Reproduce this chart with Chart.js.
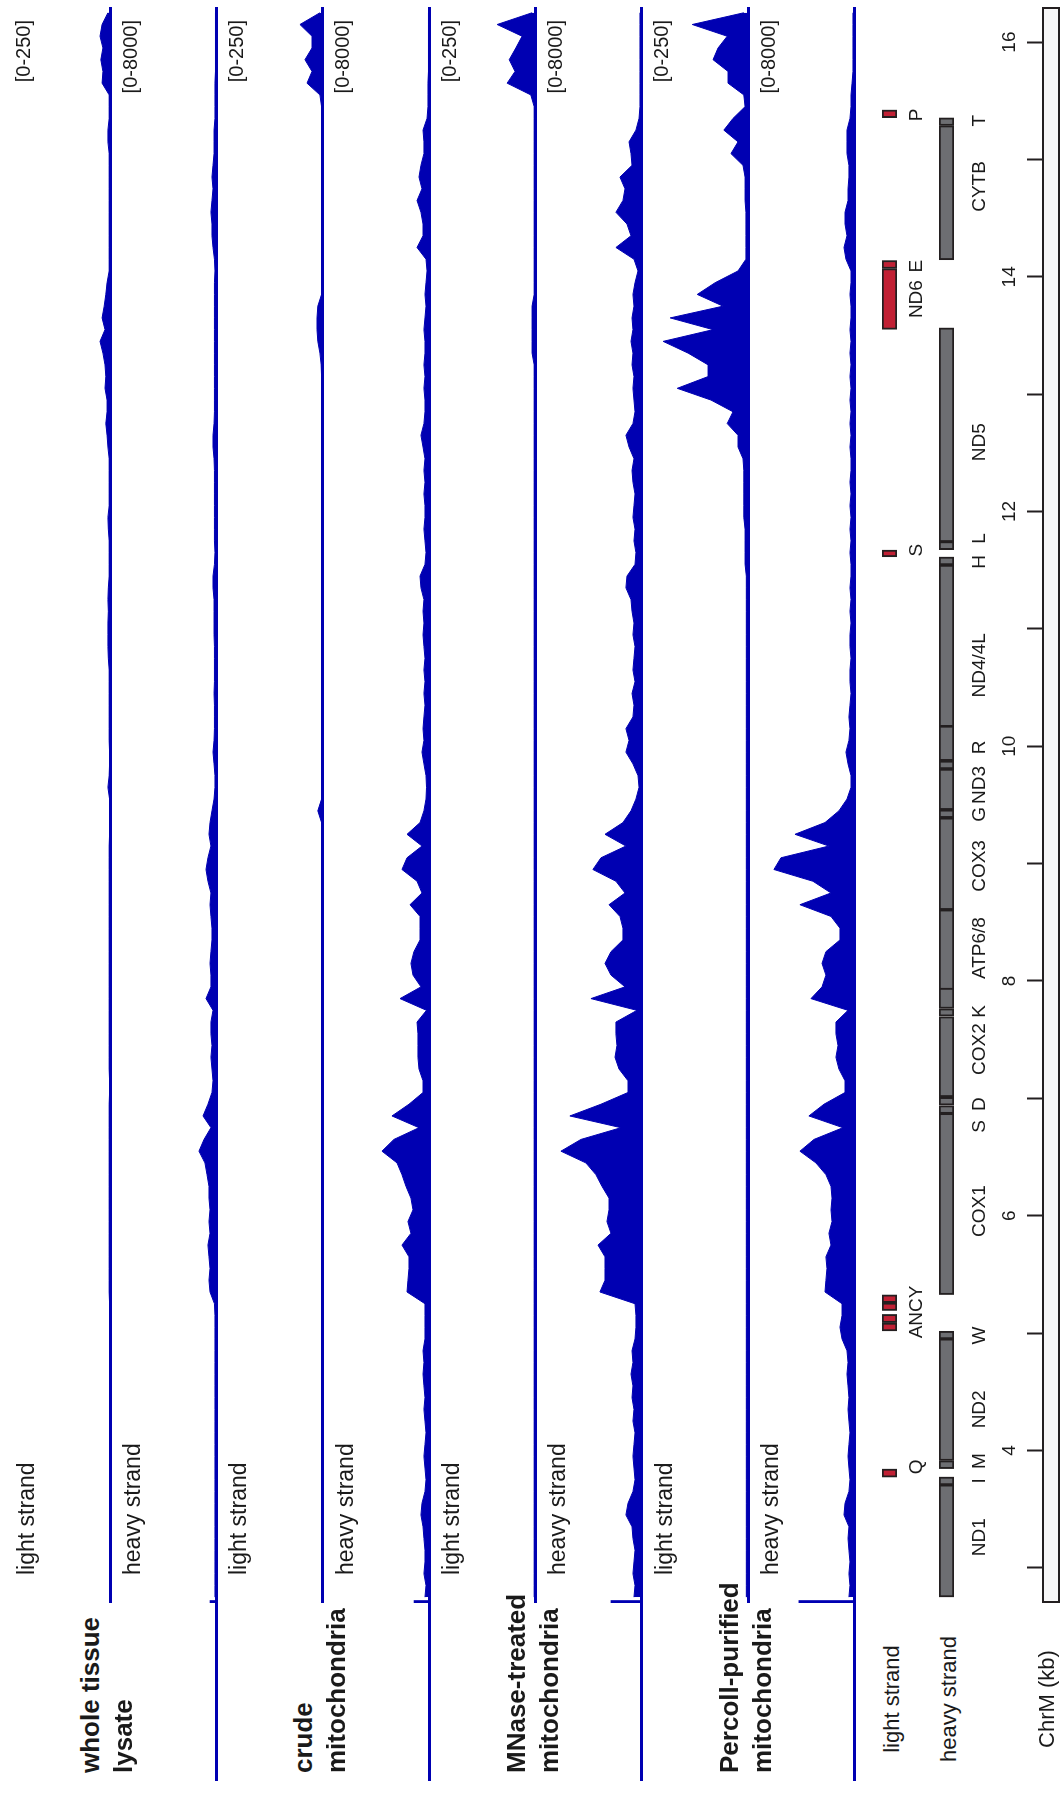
<!DOCTYPE html>
<html>
<head>
<meta charset="utf-8">
<script src="https://cdn.jsdelivr.net/npm/chart.js@4.4.1/dist/chart.umd.min.js"></script>
<style>
  html, body { margin: 0; padding: 0; background: #fff; }
  body { width: 1063px; height: 1796px; overflow: hidden; position: relative; font-family: "Liberation Sans", Arial, sans-serif; }
  /* the figure is drawn lying down and turned a quarter turn, like the original */
  #figure { position: absolute; left: 0; top: 0; width: 1796px; height: 1063px; transform-origin: 0 0; transform: translateY(1796px) rotate(-90deg); }
  .txt { position: absolute; white-space: nowrap; color: #1a1a1a; }
  .line { position: absolute; background: rgb(0, 0, 178); }
</style>
</head>
<body>
<div id="figure"></div>
<script>
// ChrM coverage, 100 bp bins (bin centres), 2.7 - 16.3 kb
const binStart = 2750, binStep = 100;
const positions = Array.from({ length: 136 }, (_, i) => binStart + i * binStep);

const wtlLight = [
  1,1,1,1,1,1,1,1,1,1, 1,1,1,1,1,1,1,1,1,1, 1,1,1,1,1,1,2,2,2,2,
  2,2,2,2,2,2,2,2,2,2, 2,2,2,1,1,2,2,2,2,2, 2,2,2,2,2,2,2,2,2,2,
  2,2,2,2,2,1,1,1,1,5, 2,1,1,
  2,2,2,2,2,2,2,4,5,5, 5,4,5,4,2,2,2,2,4,5, 2,2,2,2,2,5,7,10,7,7,
  12,10,12,17,24,12,19,14,10,7, 2,2,2,2,2,2,2,2,2,2,
  2,5,5,2,2,2,19,17,22,17,24,19,5
];
const wtlHeavy = [
  80,80,80,80,80,80,80,80,80,80, 80,80,80,80,80,80,80,80,80,80, 80,80,80,80,80,120,
  460,540,460,540,
  620,460,540,460,540,540,690,850,1310,920,
  390,1000,620,310,230,310,390,310,390,390,
  230,770,390,390,460,390,310,310,390,460,
  390,620,770,620,390,540,460,310,150,80,
  80,150,230,150,120,120,120,150,120,120,
  120,120,150,150,150,150,230,230,120,80,
  120,120,120,120,120,120,120,150,230,230,
  150,120,120,120,120,120,120,120,120,120,
  120,120,120,80,120,230,310,310,390,310,
  230,310,230,150,150,150,80,80,80,80,
  40,40,40,40,40,40
];
const crudeLight = [
  1,1,1,1,1,1,1,1,1,1, 1,1,1,1,1,1,1,1,1,1, 1,1,1,1,1,1,1,1,1,1,
  1,1,1,1,1,1,1,1,1,1, 1,1,1,1,1,1,1,1,1,1, 1,1,1,1,1,1,1,1,1,1,
  1,1,1,1,1,1,1,10,
  1,1,1,1,1,1,1,1,1,1, 1,1,1,1,1,1,1,1,1,1, 1,1,1,1,1,1,1,1,1,1, 1,1,
  1,1,1,1,1,2, 5,10,12,12,10,
  1,1,1,1,1,1,1,1,1,1, 1,1,1,1,1,1,1,
  5,36,24,41,24,24,53,5
];
const crudeHeavy = [
  310,230,390,310,310,390,460,620,540,310,
  230,310,390,310,230,310,390,310,390,460,
  390,460,310,310,310,310,1690,1620,1540,1540,
  2080,1390,1620,1230,1390,1770,2080,2460,3620,2700,
  770,2850,1540,460,460,770,850,850,850,920,
  190,2230,620,1230,1390,1160,690,690,690,1460,
  540,920,2080,1690,540,1690,690,390,230,190,
  230,390,540,390,460,390,310,390,310,390,
  310,390,460,390,460,390,620,690,310,230,
  310,390,310,310,390,310,390,310,460,620,
  390,310,310,390,310,390,310,310,390,310,
  230,310,230,150,230,920,460,460,620,920,
  540,770,620,390,390,460,150,80,80,80,
  40,40,40,40,40,40
];
const mnaseLight = [
  2,2,2,2,2,2,2,2,2,2, 2,2,2,2,2,2,2,2,2,2, 2,2,2,2,2,2,2,2,2,2,
  2,2,2,2,2,2,2,2,2,2, 2,2,2,2,2,2,2,2,2,2, 2,2,2,2,2,2,2,2,2,2,
  2,2,2,2,2,2,2,2,2,2, 2,2,2,2,2,2,2,2,2,2, 2,2,2,2,2,2,2,2,2,2,
  2,2,2,2,2,2,2,2,2,2, 2,2,2,2,2,2,
  7,7,7,7,7,
  2,2,2,2,2,2,2,2,2,2, 2,2,2,2,2,2,2,
  10,67,48,62,46,31,91,7
];
const mnaseHeavy = [
  540,460,620,540,460,620,690,1160,1000,620,
  460,540,620,540,460,620,540,690,620,770,
  620,690,460,390,390,460,3160,2770,2770,2770,
  3310,2310,2620,2460,2460,3000,3470,4240,6160,4620,
  1540,5470,3080,1000,1000,1690,2000,1850,1930,1930,
  310,3850,1230,2310,2770,2310,1390,1390,1620,2460,
  1230,1930,3700,3080,1160,2770,1390,770,390,150,
  230,620,1160,920,1160,620,540,690,460,620,
  540,460,620,540,690,770,1160,1080,460,390,
  540,460,620,540,460,620,690,540,920,1160,
  620,460,540,620,540,690,620,770,620,690,
  540,620,460,230,540,1930,770,1080,1930,1390,
  1230,1620,690,770,920,390,150,80,80,80,
  80,80,80,80,80,80
];
const percollLight = [
  4,4,4,4,4,4,4,4,4,4, 4,4,4,4,4,4,4,4,4,4, 4,4,4,4,4,4,4,4,4,4,
  4,4,4,4,4,4,4,4,4,4, 4,4,4,4,4,4,4,4,4,4, 4,4,4,4,4,4,4,4,4,4,
  4,4,4,4,4,4,4,4,4,4, 4,4,4,4,4,4,4,4,4,4, 4,4,4,4,4,4,4,4,
  7,7,7,7,10,10,10,10,10,12,
  24,24,50,36,89,170,96,96,144,204,
  84,187,60,122,79,24,5,5,5,5,
  5,7,7,7,12,41,24,58,36,7,
  10,48,48,84,72,50,134,10
];
const percollHeavy = [
  390,310,390,310,390,460,390,770,690,390,
  310,390,460,390,310,390,460,390,460,540,
  460,540,920,1080,920,920,2230,2160,2080,2160,
  1770,1930,1690,1770,1690,1770,2160,2930,4160,3080,
  850,3470,2310,690,690,1160,1390,1230,1390,1390,
  460,3310,2460,2160,2460,2160,1080,1080,1770,4160,
  1770,3160,6160,5620,1930,4540,2230,1160,540,230,
  230,460,620,390,310,390,310,230,310,310,
  230,310,310,230,310,230,310,230,230,310,
  230,310,230,310,230,310,230,230,310,230,
  310,230,310,230,310,230,310,230,310,230,
  230,310,230,230,620,770,540,690,690,460,
  460,390,390,540,540,540,310,230,230,150,
  80,80,80,80,80,80
];

// one thin spike at the left edge of each track (first read position)
const spikePos = 2700;
const spikeValues = [0, 460, 0, 1150, 0, 2310, 0, 4240];

const trackValues = [wtlLight, wtlHeavy, crudeLight, crudeHeavy, mnaseLight, mnaseHeavy, percollLight, percollHeavy];
const trackNames = ["light strand", "heavy strand", "light strand", "heavy strand", "light strand", "heavy strand", "light strand", "heavy strand"];
const trackMax = [250, 8000, 250, 8000, 250, 8000, 250, 8000];
const trackRange = ["[0-250]", "[0-8000]", "[0-250]", "[0-8000]", "[0-250]", "[0-8000]", "[0-250]", "[0-8000]"];
const groupLines = [["whole tissue", "lysate"], ["crude", "mitochondria"], ["MNase-treated", "mitochondria"], ["Percoll-purified", "mitochondria"]];

// gene annotation (bp)
const lightGeneStart = [3772, 5018, 5089, 5192, 5259, 11614, 13552, 14071, 15356];
const lightGeneEnd   = [3842, 5086, 5159, 5257, 5326, 11672, 14070, 14139, 15422];
const heavyGeneStart = [2751, 3706, 3845, 3914, 4950, 5328, 6870, 6942, 7013, 7700, 7766, 7927, 8607, 9391, 9459, 9807, 9877, 10167, 11545, 11675, 11742, 14145, 15289];
const heavyGeneEnd   = [3707, 3774, 3913, 4951, 5016, 6872, 6938, 7009, 7696, 7764, 7969, 8607, 9390, 9458, 9806, 9875, 10173, 11544, 11613, 11744, 13565, 15288, 15355];
const lightLabels = ["Q", "ANCY", "S", "ND6", "E", "P"];
const lightLabelPos = [3860, 5180, 11670, 13810, 14090, 15380];
const heavyLabels = ["ND1", "I", "M", "ND2", "W", "COX1", "S", "D", "COX2", "K", "ATP6/8", "COX3", "G", "ND3", "R", "ND4/4L", "H", "L", "ND5", "CYTB", "T"];
const heavyLabelPos = [3260, 3740, 3910, 4350, 4980, 6040, 6760, 6950, 7420, 7740, 8280, 8980, 9420, 9670, 9990, 10690, 11570, 11770, 12590, 14770, 15330];

// axis ticks (bp) and their labels (kb)
const axisTicks = [3000, 4000, 5000, 6000, 7000, 8000, 9000, 10000, 11000, 12000, 13000, 14000, 15000, 16000];
const axisTickLabels = ["", "4", "", "6", "", "8", "", "10", "", "12", "", "14", "", "16"];

const BLUE = "rgb(0, 0, 178)";
const FONT = '"Liberation Sans", Arial, sans-serif';
const X_MIN = 2700, X_MAX = 16299;
const PLOT_LEFT = 193, PLOT_W = 1596;
const B0 = 109.5, TRACK_STEP = 106.35, TRACK_H = 104;

const fig = document.getElementById("figure");

function addText(text, x, baseline, size, opts = {}) {
  const d = document.createElement("div");
  d.className = "txt";
  d.textContent = text;
  d.style.fontSize = size + "px";
  d.style.lineHeight = size + "px";
  d.style.left = x + "px";
  d.style.top = (baseline - 0.8465 * size) + "px";
  if (opts.bold) d.style.fontWeight = "bold";
  if (opts.align === "right") d.style.transform = "translateX(-100%)";
  if (opts.align === "center") d.style.transform = "translateX(-50%)";
  fig.appendChild(d);
}

function addLine(left, top, w, h) {
  const d = document.createElement("div");
  d.className = "line";
  Object.assign(d.style, { left: left + "px", top: top + "px", width: w + "px", height: h + "px" });
  fig.appendChild(d);
}

function makeCanvas(left, top, w, h) {
  const c = document.createElement("canvas");
  c.width = w;
  c.height = h;
  Object.assign(c.style, { position: "absolute", left: left + "px", top: top + "px", width: w + "px", height: h + "px" });
  fig.appendChild(c);
  return c;
}

const baseOptions = {
  responsive: false,
  animation: false,
  events: [],
  plugins: { legend: { display: false }, tooltip: { enabled: false } }
};

// coverage tracks
trackValues.forEach((vals, i) => {
  const base = Math.round(B0 + TRACK_STEP * i);
  const top = B0 + TRACK_STEP * (i - 1);
  const canvas = makeCanvas(PLOT_LEFT, base - TRACK_H, PLOT_W, TRACK_H);
  new Chart(canvas, {
    type: "line",
    data: {
      datasets: [
        {
          data: positions.map((p, j) => ({ x: p, y: vals[j] })),
          fill: "origin",
          backgroundColor: BLUE,
          borderColor: BLUE,
          borderWidth: 1,
          pointRadius: 0,
          tension: 0
        },
        {
          type: "bar",
          data: [{ x: spikePos, y: spikeValues[i] }],
          backgroundColor: BLUE,
          barThickness: 5
        }
      ]
    },
    options: {
      ...baseOptions,
      layout: { padding: 0 },
      scales: {
        x: { type: "linear", bounds: "data", min: X_MIN, max: X_MAX, offset: false, display: false },
        y: { min: 0, max: trackMax[i], display: false }
      }
    }
  });

  // baseline: heavy-strand lines run on under the sample names
  if (i % 2 === 0) addLine(PLOT_LEFT, base - 1, PLOT_W, 3);
  else addLine(15, base - 1, PLOT_LEFT + PLOT_W - 15, 3);

  addText(trackNames[i], 221, top + 31, 23);
  addText(trackRange[i], 1776, top + 27, 20, { align: "right" });
});

// sample names
groupLines.forEach((lines, g) => {
  const lightBase = B0 + TRACK_STEP * 2 * g;
  addText(lines[0], 23, lightBase - 10, 26, { bold: true });
  addText(lines[1], 23, lightBase + 23, 26, { bold: true });
});

// gene rows
function geneLabelPlugin(names, pos, offset) {
  return {
    id: "geneLabels",
    afterDatasetsDraw(chart) {
      const { ctx, chartArea, scales } = chart;
      ctx.save();
      ctx.font = "19px " + FONT;
      ctx.fillStyle = "#1a1a1a";
      ctx.textAlign = "center";
      ctx.textBaseline = "alphabetic";
      names.forEach((n, j) => ctx.fillText(n, scales.x.getPixelForValue(pos[j]), chartArea.bottom + offset));
      ctx.restore();
    }
  };
}

function makeGeneChart(top, h, starts, ends, fill, names, pos, offset) {
  const canvas = makeCanvas(PLOT_LEFT, top, PLOT_W, h);
  new Chart(canvas, {
    type: "bar",
    data: {
      labels: ["row"],
      datasets: [{
        data: starts.map((s, j) => ({ x: [s, ends[j]], y: "row" })),
        backgroundColor: fill,
        borderColor: "#231f20",
        borderWidth: 2,
        borderSkipped: false,
        barPercentage: 1,
        categoryPercentage: 1
      }]
    },
    options: {
      ...baseOptions,
      indexAxis: "y",
      layout: { padding: { top: 0, left: 0, right: 0, bottom: h - 15 } },
      scales: {
        x: { type: "linear", bounds: "data", min: X_MIN, max: X_MAX, display: false },
        y: { type: "category", display: false }
      }
    },
    plugins: [geneLabelPlugin(names, pos, offset)]
  });
}

makeGeneChart(882, 44, lightGeneStart, lightGeneEnd, "rgb(193, 32, 52)", lightLabels, lightLabelPos, 24.5);
makeGeneChart(939, 52, heavyGeneStart, heavyGeneEnd, "rgb(109, 110, 114)", heavyLabels, heavyLabelPos, 30.5);

// ChrM axis
const axisBox = {
  id: "axisBox",
  beforeDraw(chart) {
    const { ctx, chartArea: a } = chart;
    ctx.save();
    ctx.fillStyle = "#f7f7f7";
    ctx.fillRect(a.left, a.top, a.right - a.left, a.bottom - a.top);
    ctx.strokeStyle = "#231f20";
    ctx.lineWidth = 2;
    ctx.strokeRect(a.left + 1, a.top + 1, a.right - a.left - 2, a.bottom - a.top - 2);
    ctx.restore();
  }
};
const axisCanvas = makeCanvas(PLOT_LEFT, 990, PLOT_W, 71);
new Chart(axisCanvas, {
  type: "line",
  data: { datasets: [] },
  options: {
    ...baseOptions,
    layout: { padding: { top: 8, bottom: 1, left: 0, right: 0 } },
    scales: {
      x: {
        type: "linear",
        position: "top",
        bounds: "data",
        min: X_MIN,
        max: X_MAX,
        offset: false,
        afterBuildTicks: (scale) => { scale.ticks = axisTicks.map((v) => ({ value: v })); },
        afterFit: (scale) => { scale.height = 44; },
        border: { display: false },
        grid: { display: true, drawOnChartArea: false, drawTicks: true, tickLength: 15, tickWidth: 2, tickColor: "#231f20" },
        ticks: {
          autoSkip: false,
          maxRotation: 0,
          padding: 6,
          color: "#1a1a1a",
          font: { family: FONT, size: 19 },
          callback: (v, idx) => axisTickLabels[idx]
        }
      },
      y: { display: false }
    }
  },
  plugins: [axisBox]
});

// row names of the annotation block
addText("light strand", 97, 900, 22, { align: "center" });
addText("heavy strand", 97, 957, 22, { align: "center" });
addText("ChrM (kb)", 97, 1055, 22, { align: "center" });
</script>
</body>
</html>
